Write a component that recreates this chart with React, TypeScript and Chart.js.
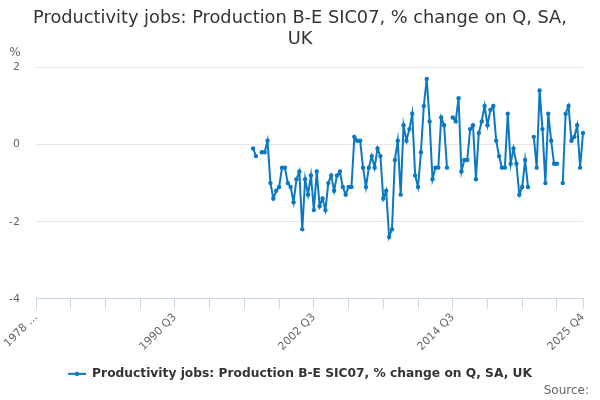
import React, { useEffect, useRef } from 'react';
import { Chart, registerables } from 'chart.js';

Chart.register(...registerables);

const TITLE_LINES = ['Productivity jobs: Production B-E SIC07, % change on Q, SA,', 'UK'];
const SERIES_NAME = 'Productivity jobs: Production B-E SIC07, % change on Q, SA, UK';
const Y_UNIT = '%';
const SOURCE_TEXT = 'Source:';

// Category range (quarters)
const FIRST_PERIOD = { year: 1978, quarter: 3 };
const LAST_PERIOD = { year: 2025, quarter: 4 };
const DATA_START = { year: 1997, quarter: 2 };

// % change on quarter, from 1997 Q2
const VALUES: (number | null)[] = [
  -0.1, -0.3, null, -0.2, -0.2, 0.1, -1.0, -1.4, -1.2, -1.1,
  -0.6, -0.6, -1.0, -1.1, -1.5, -0.9, -0.7, -2.2, -0.9, -1.3,
  -0.8, -1.7, -0.7, -1.6, -1.4, -1.7, -1.0, -0.8, -1.2, -0.8,
  -0.7, -1.1, -1.3, -1.1, -1.1, 0.2, 0.1, 0.1, -0.6, -1.1,
  -0.6, -0.3, -0.6, -0.1, -0.3, -1.4, -1.2, -2.4, -2.2, -0.4,
  0.1, -1.3, 0.5, 0.1, 0.4, 0.8, -0.8, -1.1, -0.2, 1.0,
  1.7, 0.6, -0.9, -0.6, -0.6, 0.7, 0.5, -0.6, null, 0.7,
  0.6, 1.2, -0.7, -0.4, -0.4, 0.4, 0.5, -0.9, 0.3, 0.6,
  1.0, 0.5, 0.9, 1.0, 0.1, -0.3, -0.6, -0.6, 0.8, -0.5,
  -0.1, -0.5, -1.3, -1.1, -0.4, -1.1, null, 0.2, -0.6, 1.4,
  0.4, -1.0, 0.8, 0.1, -0.5, -0.5, null, -1.0, 0.8, 1.0,
  0.1, 0.2, 0.5, -0.6, 0.3,
];

const Y_MIN = -4;
const Y_MAX = 2;
const Y_STEP = 2;
const MAJOR_EVERY = 12; // tick marks
const LABEL_EVERY = 48; // labelled ticks

const FONT = 'DejaVu Sans';
const LINE_COLOR = '#0b78c1';

function buildCategories(): string[] {
  const out: string[] = [];
  let y = FIRST_PERIOD.year;
  let q = FIRST_PERIOD.quarter;
  while (y < LAST_PERIOD.year || (y === LAST_PERIOD.year && q <= LAST_PERIOD.quarter)) {
    out.push(`${y} Q${q}`);
    q++;
    if (q > 4) { q = 1; y++; }
  }
  return out;
}

const CATEGORIES = buildCategories();

function buildData(): (number | null)[] {
  const startIdx = CATEGORIES.indexOf(`${DATA_START.year} Q${DATA_START.quarter}`);
  const data: (number | null)[] = CATEGORIES.map(() => null);
  VALUES.forEach((v, i) => { if (startIdx + i < data.length) data[startIdx + i] = v; });
  return data;
}

function legendSymbol(): HTMLCanvasElement {
  const c = document.createElement('canvas');
  c.width = 18; c.height = 8;
  const ctx = c.getContext('2d')!;
  ctx.strokeStyle = LINE_COLOR;
  ctx.lineWidth = 2;
  ctx.beginPath(); ctx.moveTo(0, 4); ctx.lineTo(18, 4); ctx.stroke();
  ctx.fillStyle = LINE_COLOR;
  ctx.beginPath(); ctx.arc(9, 4, 2.2, 0, Math.PI * 2); ctx.fill();
  return c;
}

// Center title and legend on the full canvas width (not the padded area)
const centerBoxes = {
  id: 'centerBoxes',
  afterLayout(chart: any) {
    const w = chart.width;
    if (chart.titleBlock) { chart.titleBlock.left = 0; chart.titleBlock.right = w; }
    if (chart.legend) { chart.legend.left = 0; chart.legend.right = w; }
  },
};

const extraText = {
  id: 'extraText',
  afterDraw(chart: any) {
    const { ctx, chartArea } = chart;
    ctx.save();
    ctx.fillStyle = '#666666';
    ctx.font = `12px "${FONT}"`;
    ctx.textAlign = 'center';
    ctx.textBaseline = 'middle';
    ctx.fillText(Y_UNIT, 15, chartArea.top - 15);
    ctx.textAlign = 'right';
    ctx.font = `12px "${FONT}"`;
    ctx.fillText(SOURCE_TEXT, 589, 391);
    ctx.restore();
  },
};

export default function App() {
  const ref = useRef<HTMLCanvasElement | null>(null);
  useEffect(() => {
    if (!ref.current) return;
    const last = CATEGORIES.length - 1;
    const chart = new Chart(ref.current, {
      type: 'line',
      data: {
        labels: CATEGORIES,
        datasets: [
          {
            label: SERIES_NAME,
            data: buildData(),
            borderColor: LINE_COLOR,
            backgroundColor: LINE_COLOR,
            borderWidth: 2,
            pointRadius: 2.2,
            pointHoverRadius: 2.2,
            pointBorderWidth: 0,
            pointStyle: 'circle',
            spanGaps: false,
            tension: 0,
          },
        ],
      },
      options: {
        animation: false,
        responsive: false,
        devicePixelRatio: 1,
        layout: { padding: { left: 0, right: 17, top: 5, bottom: 10 } },
        plugins: {
          title: {
            display: true,
            text: TITLE_LINES,
            color: '#333333',
            font: { family: FONT, size: 17.8, weight: 'normal', lineHeight: 1.15 },
            padding: { top: 3.5, bottom: 18 },
          },
          legend: {
            display: true,
            position: 'bottom',
            labels: {
              color: '#333333',
              font: { family: FONT, size: 12.25, weight: 'bold' },
              usePointStyle: true,
              pointStyleWidth: 18,
              generateLabels: () => [
                {
                  text: SERIES_NAME,
                  pointStyle: legendSymbol(),
                  fillStyle: LINE_COLOR,
                  strokeStyle: LINE_COLOR,
                  lineWidth: 0,
                  hidden: false,
                  datasetIndex: 0,
                  fontColor: '#333333',
                },
              ],
            },
          },
          tooltip: { enabled: false },
        },
        scales: {
          x: {
            type: 'category',
            offset: false,
            grid: {
              display: true,
              drawOnChartArea: false,
              drawTicks: true,
              tickLength: 10,
              color: '#ccd6eb',
            },
            border: { display: true, color: '#ccd6eb' },
            ticks: {
              autoSkip: false,
              maxRotation: 45,
              minRotation: 45,
              padding: 2,
              color: '#666666',
              font: { family: FONT, size: 11 },
              callback: (_v: any, index: number) => {
                if (index === 0) return CATEGORIES[0].slice(0, 4) + ' …';
                if (index === last) return CATEGORIES[last];
                if (index % LABEL_EVERY === 0) return CATEGORIES[index];
                if (index % MAJOR_EVERY === 0) return '';
                return null as any;
              },
            },
            afterFit: (s: any) => { s.height = 59; },
          },
          y: {
            min: Y_MIN,
            max: Y_MAX,
            grid: { color: '#e6e6e6', drawTicks: false },
            border: { display: false },
            ticks: {
              stepSize: Y_STEP,
              padding: 16,
              color: '#666666',
              font: { family: FONT, size: 11 },
            },
            afterFit: (s: any) => { s.width = 36; },
          },
        },
      },
      plugins: [centerBoxes, extraText],
    });
    return () => chart.destroy();
  }, []);
  return (
    <div style={{ position: 'fixed', left: 0, top: 0, width: 600, height: 400, background: '#fff' }}>
      <canvas ref={ref} width={600} height={400} />
    </div>
  );
}
